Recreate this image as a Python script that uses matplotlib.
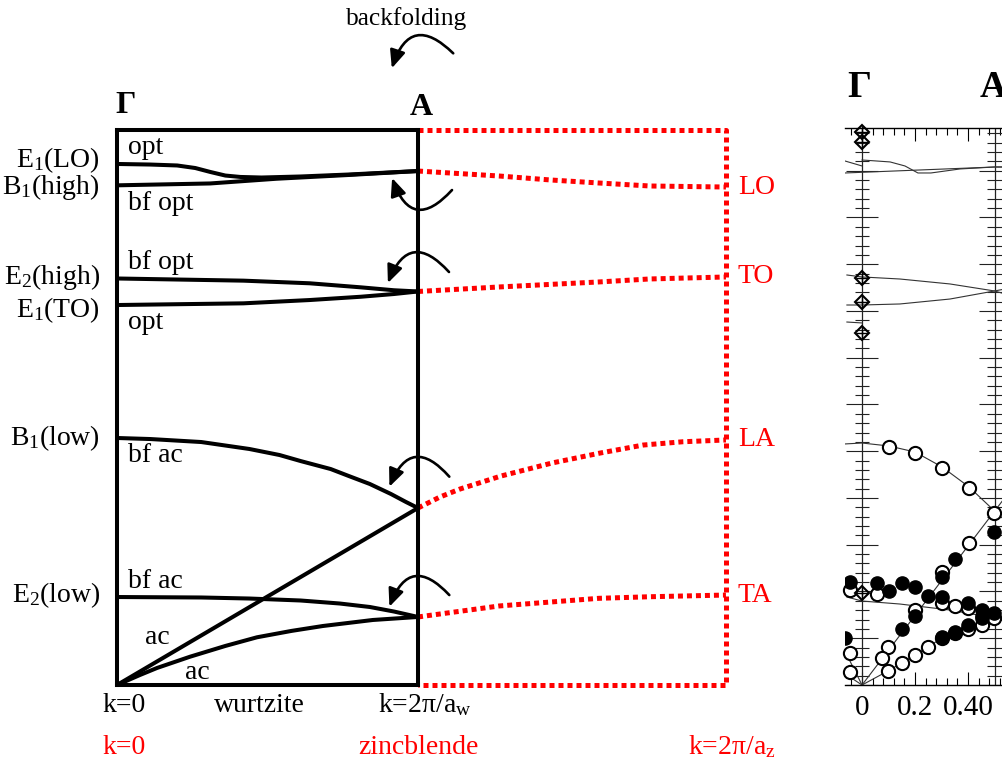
import numpy as np
import matplotlib.pyplot as plt
from matplotlib.ticker import MultipleLocator

plt.rcParams['font.family'] = ['Liberation Serif', 'DejaVu Serif']
plt.rcParams['mathtext.fontset'] = 'custom'
plt.rcParams['mathtext.rm'] = 'Liberation Serif'
plt.rcParams['mathtext.it'] = 'Liberation Serif:italic'
plt.rcParams['mathtext.bf'] = 'Liberation Serif:bold'

# --- wurtzite branches (k in units of 2pi/a_w, frequency in cm^-1) ---
k_lo_opt = [0, 0.11, 0.2, 0.26, 0.31, 0.36, 0.41, 0.48, 0.61, 0.77, 1.0]
f_lo_opt = [553.7, 553.1, 552.1, 549.4, 545.2, 541.4, 539.9, 539.3, 540.4, 542.5, 546.2]
k_b1_high = [0, 0.31, 0.53, 0.77, 1.0]
f_b1_high = [531, 533, 538, 542, 546.2]
k_e2_high = [0, 0.42, 0.64, 0.81, 0.92, 1.0]
f_e2_high = [432, 429.7, 426.9, 422.6, 419.5, 418.2]
k_to_opt = [0, 0.42, 0.64, 0.81, 0.92, 1.0]
f_to_opt = [403.8, 405.6, 409.1, 412.6, 415.5, 418.2]
k_b1_low = [0, 0.11, 0.28, 0.44, 0.54, 0.61, 0.71, 0.77, 0.84, 0.91, 0.96, 1.0]
f_b1_low = [262.5, 261.4, 258.2, 250.8, 244.4, 238.0, 229.5, 222.1, 213.6, 203.0, 194.5, 188.1]
k_la = [0, 1.0]
f_la = [0, 188.1]
k_e2_low = [0, 0.28, 0.44, 0.61, 0.74, 0.84, 0.92, 1.0]
f_e2_low = [93.5, 93.0, 91.9, 89.8, 86.6, 82.9, 78.1, 72.3]
k_ta = [0, 0.076, 0.133, 0.243, 0.36, 0.465, 0.58, 0.684, 0.85, 1.0]
f_ta = [0, 10.6, 18.1, 30.1, 41.5, 50.7, 57.5, 62.7, 69.1, 72.3]

# --- zincblende branches (dotted red) ---
zb_kmax = 2.023
k_zb_lo = [1, 1.27, 1.44, 1.6, 1.77, 2.023]
f_zb_lo = [546.2, 540.9, 536.7, 533.5, 530.3, 529.2]
k_zb_to = [1, 1.27, 1.6, 1.77, 2.023]
f_zb_to = [418.2, 423, 428.3, 431.5, 433.6]
k_zb_la = [1, 1.073, 1.14, 1.276, 1.445, 1.605, 1.748, 1.88, 2.023]
f_zb_la = [188.1, 199.8, 208.3, 222.1, 235.9, 246.5, 255, 258.5, 260.4]
k_zb_ta = [1, 1.27, 1.6, 1.77, 2.023]
f_zb_ta = [72.3, 84, 92.1, 93.8, 95.6]
f_top = 589.8

mode_labels = ['E$_1$(LO)', 'B$_1$(high)', 'E$_2$(high)', 'E$_1$(TO)', 'B$_1$(low)', 'E$_2$(low)']
mode_f = [558, 529, 434, 398, 262.5, 95.6]

inner_labels = ['opt', 'bf opt', 'bf opt', 'opt', 'bf ac', 'bf ac', 'ac', 'ac']
inner_k = [0.037, 0.037, 0.037, 0.037, 0.037, 0.037, 0.093, 0.226]
inner_f = [571.7, 512.2, 449.5, 384.7, 243.4, 110, 50, 13.8]

zb_labels = ['LO', 'TO', 'LA', 'TA']
zb_label_f = [529.2, 433.6, 260.4, 95.6]

# backfolding arrows: (k_start, f_start, k_end, f_end, rad)
arrows = [
    (1.113, 526.0, 0.914, 538.8, -0.83),
    (1.103, 438.9, 0.900, 427.2, 0.8),
    (1.104, 221.4, 0.905, 210.7, 0.8),
    (1.104, 95.6, 0.905, 83.2, 0.8),
    (1.117, 671.3, 0.913, 655.4, 0.8),
]

# --- measured dispersion (right panel), q in units of 2pi/c ---
q_diamond = [0, 0, 0, 0, 0, 0]
f_diamond = [591.4, 580.7, 435.3, 409.6, 376.5, 98.4]
q_open = [0.102, 0.2, 0.302, 0.404, 0.498,
          0.404, 0.302, 0.2, 0.098, 0.075,
          0.098, 0.151, 0.2, 0.249, 0.302, 0.351, 0.4, 0.453, 0.498,
          0.302, 0.351, 0.4, 0.057, -0.045, -0.045, -0.045]
f_open = [254.5, 248.1, 232.1, 210.7, 184.0,
          151.9, 120.9, 80.2, 40.6, 28.9,
          15.0, 23.5, 32.1, 40.6, 50.3, 55.6, 59.9, 64.2, 71.7,
          87.7, 84.5, 82.4, 97.3, 101.6, 34.2, 13.9]
q_full = [-0.045, 0.057, 0.102, 0.151, 0.2, 0.249, 0.302, 0.351, 0.302, 0.2,
          0.151, 0.4, 0.453, 0.453, 0.498, 0.498, -0.064, 0.302, 0.351, 0.4, 0.453]
f_full = [110.2, 109.1, 100.5, 109.1, 104.8, 95.2, 94.1, 134.8, 115.5, 73.8,
          59.9, 87.7, 80.2, 71.7, 163.6, 77.0, 50.3, 51.3, 56.7, 64.2, 74]

calc_lines = [
    ([-0.064, 0], [560.4, 555.1]),
    ([0, 0.106, 0.162, 0.211, 0.26, 0.370, 0.5, 0.53], [561.5, 559.4, 555.1, 547.6, 547.6, 551.9, 554.0, 554.0]),
    ([-0.064, 0.5, 0.53], [547.6, 554.0, 554.0]),
    ([-0.057, 0, 0.143, 0.332, 0.5, 0.53], [438.5, 436.4, 434.2, 428.9, 421.4, 419]),
    ([-0.057, 0, 0.143, 0.332, 0.5, 0.53], [406.4, 406.4, 407.5, 412.8, 421.4, 423]),
    ([-0.057, 0], [388.2, 387.2]),
    ([-0.064, 0, 0.102, 0.2, 0.302, 0.404, 0.5, 0.53], [257.8, 258.8, 255.6, 249.2, 233.2, 211.8, 186.1, 178.6]),
    ([0, 0.53], [0, 197]),
    ([0, 0.098, 0.2, 0.302, 0.4, 0.5, 0.53], [0, 15.0, 32.1, 50.3, 59.9, 71.7, 73.8]),
    ([-0.057, 0, 0.143, 0.332, 0.5, 0.53], [94.1, 89.8, 86.6, 80.2, 71.7, 69.5]),
    ([-0.057, 0], [32.1, 0]),
    ([-0.057, 0], [10.7, 0]),
]
q_ticks = [0, 0.2, 0.4]
q_ticklabels = ['0', '0.2', '0.40']

BLACK_LW = 2.9
RED = '#ff0000'
FS = 20

fig = plt.figure(figsize=(10.03, 7.63), dpi=100)

# ---------------- left schematic ----------------
ax = fig.add_axes([117 / 1003, 78 / 763, 301 / 1003, 555 / 763])
ax.set_xlim(0, 1)
ax.set_ylim(0, f_top)
ax.set_xticks([])
ax.set_yticks([])
for s in ax.spines.values():
    s.set_linewidth(BLACK_LW)

wz = [(k_lo_opt, f_lo_opt), (k_b1_high, f_b1_high), (k_e2_high, f_e2_high),
      (k_to_opt, f_to_opt), (k_b1_low, f_b1_low), (k_la, f_la),
      (k_e2_low, f_e2_low), (k_ta, f_ta)]
for kk, ff in wz:
    ax.plot(kk, ff, color='k', lw=BLACK_LW, solid_capstyle='round',
            solid_joinstyle='round', clip_on=False)

zb = [(k_zb_lo, f_zb_lo), (k_zb_to, f_zb_to), (k_zb_la, f_zb_la), (k_zb_ta, f_zb_ta),
      ([1, zb_kmax, zb_kmax, 1], [f_top, f_top, 0, 0])]
for kk, ff in zb:
    ax.plot(kk, ff, color=RED, lw=3.6, ls=(0, (1, 0.8)), clip_on=False)

for ks, fs, ke, fe, rad in arrows:
    ax.annotate('', xy=(ke, fe), xytext=(ks, fs), annotation_clip=False,
                arrowprops=dict(arrowstyle='-|>,head_length=0.6,head_width=0.26',
                                mutation_scale=18, color='k', lw=1.9,
                                shrinkA=0, shrinkB=0,
                                connectionstyle=f'arc3,rad={rad}'))

for lab, f in zip(mode_labels, mode_f):
    ax.text(-0.056, f, lab, ha='right', va='center', fontsize=FS)
for lab, k, f in zip(inner_labels, inner_k, inner_f):
    ax.text(k, f, lab, ha='left', va='center', fontsize=FS)
for lab, f in zip(zb_labels, zb_label_f):
    ax.text(2.063, f, lab, ha='left', va='center', fontsize=FS, color=RED)

ax.text(0.027, 616, 'Γ', ha='center', va='center', fontsize=23, fontweight='bold')
ax.text(1.01, 614, 'A', ha='center', va='center', fontsize=23, fontweight='bold')
ax.text(0.963, 707.8, 'backfolding', ha='center', va='center', fontsize=18.3)

ax.text(-0.047, -21.3, 'k=0', ha='left', va='center', fontsize=FS)
ax.text(0.472, -21.3, 'wurtzite', ha='center', va='center', fontsize=FS)
ax.text(0.867, -21.3, r'k=2π/a$_\mathrm{w}$', ha='left', va='center', fontsize=FS)
ax.text(-0.047, -65.9, 'k=0', ha='left', va='center', fontsize=FS, color=RED)
ax.text(1.003, -65.9, 'zincblende', ha='center', va='center', fontsize=FS, color=RED)
ax.text(1.897, -65.9, r'k=2π/a$_\mathrm{z}$', ha='left', va='center', fontsize=FS, color=RED)

# ---------------- right panel (cropped measured dispersion) ----------------
ax2 = fig.add_axes([845 / 1003, 78 / 763, 255 / 1003, 557 / 763])
ax2.set_xlim(-0.0642, 0.898)
ax2.set_ylim(0, 595.7)
ax2.spines['left'].set_visible(False)
ax2.spines['right'].set_visible(False)
ax2.spines['top'].set_linewidth(1.0)
ax2.spines['bottom'].set_linewidth(1.0)
ax2.set_yticks([])
ax2.set_xticks(q_ticks)
ax2.set_xticklabels(q_ticklabels)
ax2.xaxis.set_minor_locator(MultipleLocator(0.04))
ax2.tick_params(axis='x', which='both', direction='in', top=True, bottom=True,
                width=0.8, labelsize=21, pad=7)
ax2.tick_params(axis='x', which='major', length=9.5)
ax2.tick_params(axis='x', which='minor', length=5)

f_all = np.arange(0, 596, 10)
for qv in [0, 0.5]:
    ax2.axvline(qv, color='#222222', lw=0.9)
    ax2.hlines(f_all[f_all % 50 == 0], qv - 0.06, qv + 0.06, color='#222222', lw=0.8)
    ax2.hlines(f_all[f_all % 50 != 0], qv - 0.028, qv + 0.028, color='#222222', lw=0.8)

for qq, ff in calc_lines:
    ax2.plot(qq, ff, color='#333333', lw=0.8)

ax2.plot(q_open, f_open, 'o', ms=9.5, mfc='white', mec='k', mew=1.5, clip_on=False)
ax2.plot(q_full, f_full, 'o', ms=9.5, mfc='k', mec='k', mew=1.0)
ax2.plot(q_diamond, f_diamond, 'D', ms=7.5, mfc='none', mec='k', mew=1.5, clip_on=False)
ax2.plot(q_diamond, f_diamond, '+', ms=9, mec='k', mew=1.0, clip_on=False)

ax2.text(-0.011, 638.5, 'Γ', ha='center', va='center', fontsize=27, fontweight='bold')
ax2.text(0.494, 638.5, 'A', ha='center', va='center', fontsize=27, fontweight='bold')

fig.savefig('out.png', dpi=100)
